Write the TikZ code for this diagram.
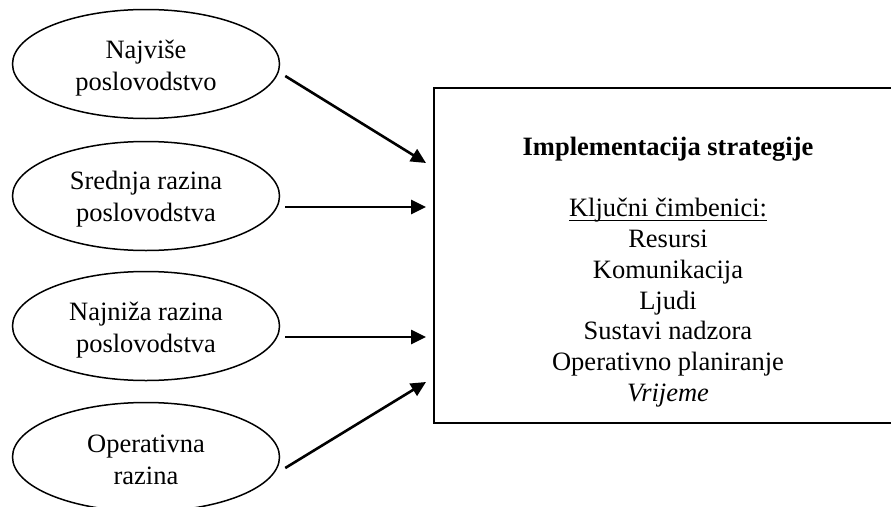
\documentclass[tikz,border=0pt]{standalone}
\usepackage{fontspec}
\setmainfont{Liberation Serif}
\usetikzlibrary{arrows.meta,shapes.geometric}
\newcommand\myul[1]{\setbox0\hbox{#1}\rlap{\rule[-4.2pt]{\wd0}{1.3pt}}\box0}
\begin{document}
\begin{tikzpicture}[x=1pt,y=-1pt,
  lvl/.style={draw, ellipse, line width=1.5pt, minimum width=267pt, minimum height=109pt, inner sep=0pt},
  lvltxt/.style={align=center, inner sep=0pt, font=\fontsize{26.5}{31.5}\selectfont},
  arr/.style={line width=2.6pt, -{Triangle[length=15pt,width=14pt]}},
  mainbox/.style={draw, line width=2pt, minimum width=468pt, minimum height=335pt, inner sep=0pt}]
\useasboundingbox (0,0) rectangle (891,506);
\clip (0,0) rectangle (891,506);
\node[lvl] (e1) at (146,64) {};
\node[lvl] (e2) at (146,196) {};
\node[lvl] (e3) at (146,326) {};
\node[lvl] (e4) at (146,457) {};
\node[lvltxt] (t1) at (146,68) {Najviše\\poslovodstvo};
\node[lvltxt] (t2) at (146,199) {Srednja razina\\poslovodstva};
\node[lvltxt] (t3) at (146,330) {Najniža razina\\poslovodstva};
\node[lvltxt] (t4) at (146,460) {Operativna\\razina};
\node[mainbox] (impl) at (668,255.5) {};
\node[align=center, font=\fontsize{26.5}{30.7}\selectfont] (txt) at (668,272)
  {\textbf{Implementacija strategije}\\[30.7pt]
   \myul{Ključni čimbenici:}\\
   Resursi\\ Komunikacija\\ Ljudi\\ Sustavi nadzora\\ Operativno planiranje\\ \textit{Vrijeme}};
\draw[arr] ([shift={(5,12)}]e1.east) -- ([shift={(-7,-92.5)}]impl.west);
\draw[arr] ([shift={(5,11)}]e2.east) -- ([shift={(-7,-48.5)}]impl.west);
\draw[arr] ([shift={(5,11)}]e3.east) -- ([shift={(-7,81.5)}]impl.west);
\draw[arr] ([shift={(5,11)}]e4.east) -- ([shift={(-7,126.5)}]impl.west);
\end{tikzpicture}
\end{document}
